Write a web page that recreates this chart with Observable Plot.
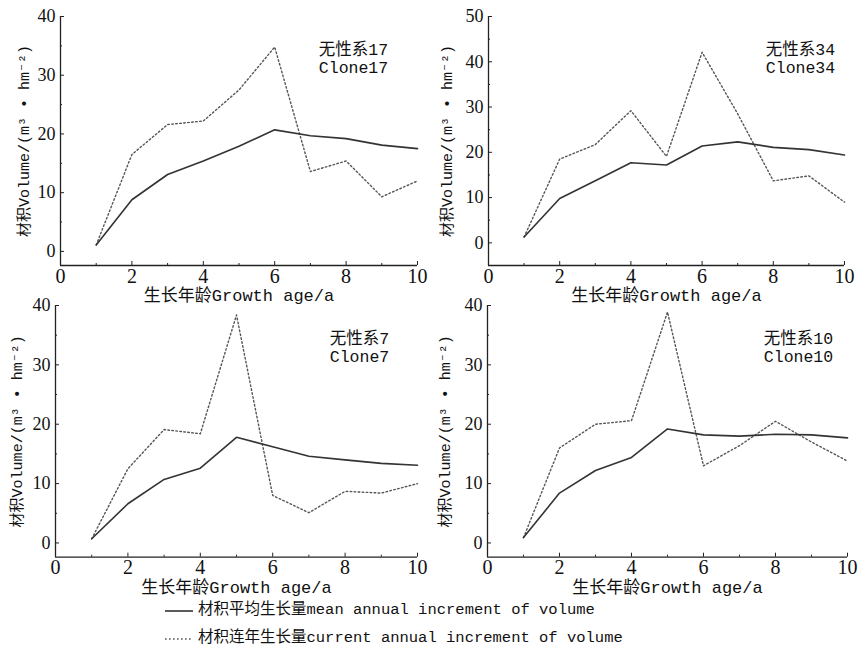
<!DOCTYPE html>
<html>
<head>
<meta charset="utf-8">
<script src="https://cdn.jsdelivr.net/npm/d3@7"></script>
<script src="https://cdn.jsdelivr.net/npm/@observablehq/plot@0.6"></script>
<style>
  html, body { margin: 0; padding: 0; background: #fff; }
  #root { position: relative; width: 858px; height: 650px; overflow: hidden; }
  .panel { position: absolute; }
  .legend { position: absolute; left: 165px; top: 597px; font-family: "Liberation Mono", "Noto Sans CJK SC", monospace; font-size: 15.5px; color: #111; }
  .legend .row { height: 28px; display: flex; align-items: center; white-space: pre; line-height: 1; }
  .legend svg { margin-right: 5px; }
</style>
</head>
<body>
<div id="root"></div>
<script>
// ---- data ----
const ages = [1, 2, 3, 4, 5, 6, 7, 8, 9, 10];
const mean17 = [1.1, 8.8, 13.1, 15.4, 17.9, 20.7, 19.7, 19.2, 18.1, 17.5];
const cur17  = [1.1, 16.5, 21.6, 22.2, 27.5, 34.8, 13.6, 15.4, 9.3, 12.0];
const mean34 = [1.3, 9.8, 13.7, 17.7, 17.2, 21.4, 22.3, 21.1, 20.6, 19.4];
const cur34  = [1.3, 18.5, 21.7, 29.2, 19.1, 42.1, 28.5, 13.7, 14.8, 9.0];
const mean7  = [0.7, 6.6, 10.7, 12.6, 17.8, 16.2, 14.6, 14.0, 13.4, 13.1];
const cur7   = [0.7, 12.5, 19.1, 18.4, 38.4, 8.0, 5.1, 8.7, 8.4, 10.0];
const mean10 = [0.9, 8.4, 12.2, 14.4, 19.2, 18.2, 18.0, 18.3, 18.2, 17.7];
const cur10  = [0.9, 16.0, 20.0, 20.6, 38.9, 13.0, 16.4, 20.5, 17.0, 13.8];

const xTicks = [0, 2, 4, 6, 8, 10];
const xMinor = [1, 3, 5, 7, 9];
const yTicks40 = [0, 10, 20, 30, 40];
const yMinor40 = [5, 15, 25, 35];
const yTicks50 = [0, 10, 20, 30, 40, 50];
const yMinor50 = [5, 15, 25, 35, 45];

const xLabel = "生长年龄Growth age/a";
const yLabel = "材积Volume/(m³ • hm⁻²)";
const legendMean = "材积平均生长量mean annual increment of volume";
const legendCur = "材积连年生长量current annual increment of volume";

const panels = [
  {name: "无性系17", clone: "Clone17", mean: mean17, cur: cur17, yDomain: [-2.4, 40], yTicks: yTicks40, yMinor: yMinor40,
   box: {left: 0, top: 0, width: 429, height: 305}, m: {l: 60, r: 12, t: 16, b: 40}, ylDx: -36, annDx: -64},
  {name: "无性系34", clone: "Clone34", mean: mean34, cur: cur34, yDomain: [-5, 50], yTicks: yTicks50, yMinor: yMinor50,
   box: {left: 428, top: 0, width: 430, height: 305}, m: {l: 60, r: 14, t: 16, b: 40}, ylDx: -41, annDx: -44},
  {name: "无性系7", clone: "Clone7", mean: mean7, cur: cur7, yDomain: [-2.4, 40], yTicks: yTicks40, yMinor: yMinor40,
   box: {left: 0, top: 289, width: 429, height: 310}, m: {l: 55, r: 12, t: 16, b: 42.3}, ylDx: -38, annDx: -58},
  {name: "无性系10", clone: "Clone10", mean: mean10, cur: cur10, yDomain: [-2.4, 40], yTicks: yTicks40, yMinor: yMinor40,
   box: {left: 428, top: 289, width: 430, height: 310}, m: {l: 59, r: 11, t: 16, b: 42.3}, ylDx: -42, annDx: -49}
];

const textFont = '"Liberation Mono", "Noto Sans CJK SC", monospace';
const numFont = '"Liberation Serif", "DejaVu Serif", serif';
const root = document.getElementById("root");

for (const p of panels) {
  const data = ages.map((a, i) => ({age: a, mean: p.mean[i], cur: p.cur[i]}));
  const chart = Plot.plot({
    width: p.box.width,
    height: p.box.height,
    marginLeft: p.m.l, marginRight: p.m.r, marginTop: p.m.t, marginBottom: p.m.b,
    style: {background: "transparent", color: "#111", overflow: "visible"},
    x: {domain: [0, 10]},
    y: {domain: p.yDomain},
    marks: [
      Plot.ruleX([0], {stroke: "#222", strokeWidth: 1.3}),
      Plot.ruleY([p.yDomain[0]], {stroke: "#222", strokeWidth: 1.3}),
      Plot.axisX({ticks: xTicks, tickSize: 0, tickPadding: 3, fontSize: 20, fontFamily: numFont, label: null}),
      Plot.axisX({ticks: xTicks, tickSize: -4, tickFormat: () => "", label: null, stroke: "#222"}),
      Plot.axisX({ticks: xMinor, tickSize: -2, tickFormat: () => "", label: null, stroke: "#222"}),
      Plot.axisY({ticks: p.yTicks, tickSize: 0, tickPadding: 5, fontSize: 18, fontFamily: numFont, label: null}),
      Plot.axisY({ticks: p.yTicks, tickSize: -4, tickFormat: () => "", label: null, stroke: "#222"}),
      Plot.axisY({ticks: p.yMinor, tickSize: -2, tickFormat: () => "", label: null, stroke: "#222"}),
      Plot.line(data, {x: "age", y: "cur", stroke: "#555", strokeWidth: 1.4, strokeDasharray: "1.6,2.4"}),
      Plot.line(data, {x: "age", y: "mean", stroke: "#333", strokeWidth: 1.6}),
      Plot.text([p.name + "\n" + p.clone], {frameAnchor: "top-right", textAnchor: "middle", lineAnchor: "top",
        dx: p.annDx, dy: 26, fontSize: 16.5, lineHeight: 1.09, fontFamily: textFont, fill: "#111"}),
      Plot.text([xLabel], {frameAnchor: "bottom", textAnchor: "middle", lineAnchor: "middle", dy: 30, fontSize: 17, fontFamily: textFont, fill: "#111"}),
      Plot.text([yLabel], {frameAnchor: "left", textAnchor: "middle", rotate: -90, lineAnchor: "middle", dx: p.ylDx, fontSize: 15, fontFamily: textFont, fill: "#111"})
    ]
  });
  const div = document.createElement("div");
  div.className = "panel";
  div.style.left = p.box.left + "px";
  div.style.top = p.box.top + "px";
  div.appendChild(chart);
  root.appendChild(div);
}

// legend
const legend = document.createElement("div");
legend.className = "legend";
legend.innerHTML = `
  <div class="row"><svg width="28" height="10"><line x1="0" y1="5" x2="28" y2="5" stroke="#333" stroke-width="1.6"/></svg><span>${legendMean}</span></div>
  <div class="row"><svg width="28" height="10"><line x1="0" y1="5" x2="28" y2="5" stroke="#555" stroke-width="1.4" stroke-dasharray="1.6,2.4"/></svg><span>${legendCur}</span></div>`;
root.appendChild(legend);
</script>
</body>
</html>
